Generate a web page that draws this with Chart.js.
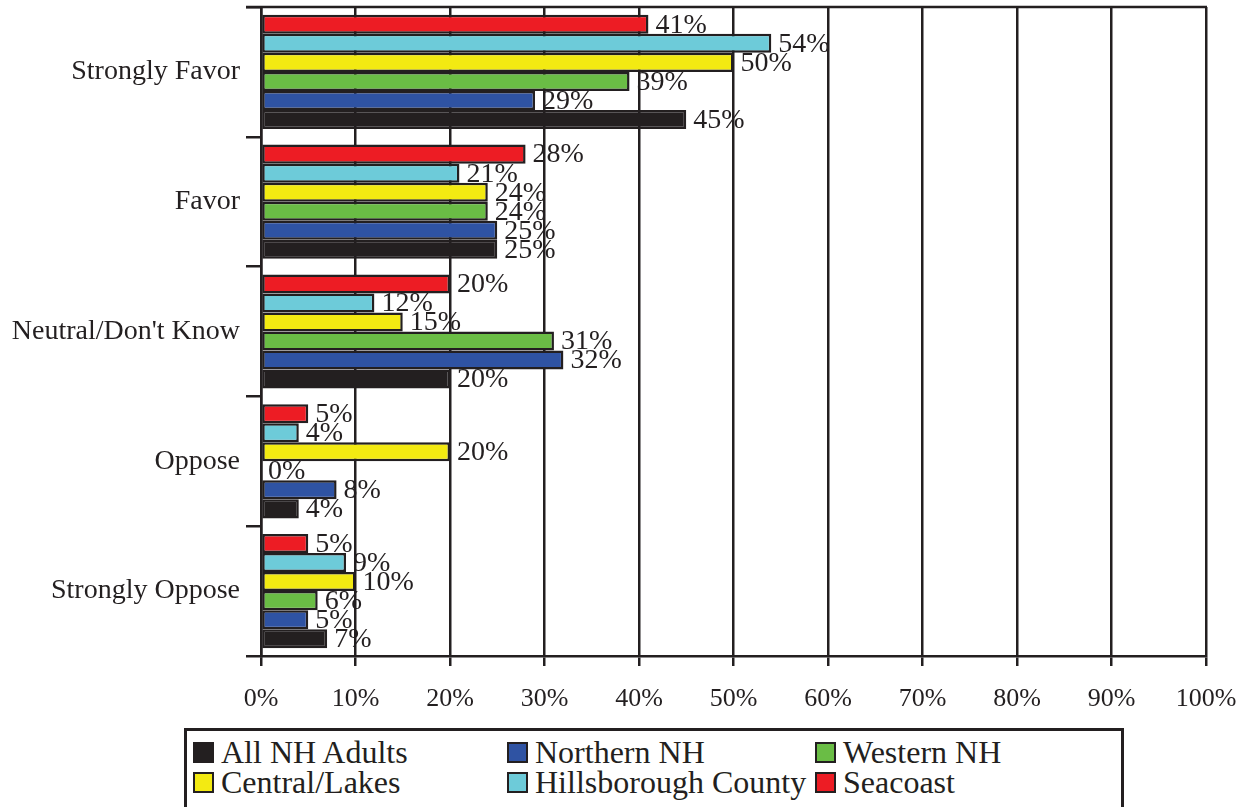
<!DOCTYPE html>
<html>
<head>
<meta charset="utf-8">
<script src="https://cdn.jsdelivr.net/npm/chart.js@4"></script>
<style>
  body { margin: 0; background: #fff; }
  #wrap { position: relative; width: 1252px; height: 807px; overflow: hidden; }
  #chartBox { position: absolute; left: 0; top: 0; width: 1252px; height: 720px; }
  #legend {
    position: absolute; left: 184px; top: 728px; width: 940px; height: 110px;
    border: 3px solid #231f20; box-sizing: border-box;
    font-family: "Liberation Serif", "Times New Roman", serif; font-size: 32px; color: #231f20;
  }
  .item { position: absolute; display: flex; align-items: center; white-space: nowrap; height: 32px; line-height: 32px; }
  .sw { width: 17px; height: 17px; border: 2.5px solid #231f20; margin-right: 7px; }
</style>
</head>
<body>
<div id="wrap">
  <div id="chartBox"><canvas id="myChart"></canvas></div>
  <div id="legend"></div>
</div>
<script>
const categories = ["Strongly Favor", "Favor", "Neutral/Don't Know", "Oppose", "Strongly Oppose"]
const xTicks = [0, 10, 20, 30, 40, 50, 60, 70, 80, 90, 100]

// top to bottom inside each group
const seacoast     = [41, 28, 20, 5, 5]
const hillsborough = [54, 21, 12, 4, 9]
const central      = [50, 24, 15, 20, 10]
const western      = [39, 24, 31, 0, 6]
const northern     = [29, 25, 32, 8, 5]
const allNH        = [45, 25, 20, 4, 7]

const seriesNames  = ["Seacoast", "Hillsborough County", "Central/Lakes", "Western NH", "Northern NH", "All NH Adults"]
const seriesData   = [seacoast, hillsborough, central, western, northern, allNH]
const seriesColors = ["#ed1c24", "#6dcbd9", "#f3ea12", "#6abd45", "#2f53a3", "#231f20"]

// legend reads in the other direction
const legendOrder = ["All NH Adults", "Northern NH", "Western NH", "Central/Lakes", "Hillsborough County", "Seacoast"]

const ink = "#231f20"
const serif = "'Liberation Serif', 'Times New Roman', serif"

const ctx = document.getElementById('myChart');

const frame = {
  id: "frame",
  afterDraw(chart) {
    const a = chart.chartArea
    const c = chart.ctx
    c.save()
    c.strokeStyle = ink
    c.lineWidth = 2.5
    c.beginPath()
    c.moveTo(a.left - 15, a.top)
    c.lineTo(a.right + 1, a.top)
    c.stroke()
    c.restore()
  }
}

const valueLabels = {
  id: "valueLabels",
  afterDatasetsDraw(chart) {
    const c = chart.ctx
    c.save()
    c.font = "28px " + serif
    c.fillStyle = ink
    c.textBaseline = "middle"
    c.textAlign = "left"
    chart.data.datasets.forEach((ds, i) => {
      chart.getDatasetMeta(i).data.forEach((bar, j) => {
        c.fillText(ds.data[j] + "%", bar.x + 7, bar.y + 1)
      })
    })
    c.restore()
  }
}

const myChart = new Chart(ctx, {
  type: "bar",
  data: {
    labels: categories,
    datasets: seriesNames.map((name, i) => ({
      label: name,
      data: seriesData[i],
      backgroundColor: seriesColors[i],
      borderColor: ink,
      borderWidth: 2.5,
      borderSkipped: false,
      barPercentage: 1,
      categoryPercentage: 0.88
    }))
  },
  options: {
    indexAxis: "y",
    responsive: true,
    maintainAspectRatio: false,
    animation: false,
    layout: { padding: { top: 7, right: 46, left: 0, bottom: 0 } },
    plugins: {
      legend: { display: false },
      tooltip: { enabled: false }
    },
    scales: {
      x: {
        min: 0,
        max: 100,
        afterBuildTicks: (scale) => { scale.ticks = xTicks.map(v => ({ value: v })) },
        afterFit: (scale) => { scale.height = 64; scale.paddingLeft = 0; scale.paddingRight = 0 },
        border: { color: ink, width: 2.5 },
        grid: { color: ink, lineWidth: 2.5, tickLength: 10, tickColor: ink },
        ticks: {
          color: ink,
          padding: 18,
          font: { family: serif, size: 26 },
          callback: (v) => v + "%"
        }
      },
      y: {
        offset: true,
        afterFit: (scale) => { scale.width = 261; scale.paddingTop = 0; scale.paddingBottom = 0 },
        border: { color: ink, width: 2.5 },
        grid: { drawOnChartArea: false, offset: true, tickLength: 15, color: ink, lineWidth: 2.5 },
        ticks: {
          color: ink,
          padding: 6,
          font: { family: serif, size: 28 }
        }
      }
    }
  },
  plugins: [frame, valueLabels]
});

// html legend, 3 columns x 2 rows
const legend = document.getElementById("legend")
const colX = [6, 320, 628]
const rowY = [5, 35]
legendOrder.forEach((name, k) => {
  const i = seriesNames.indexOf(name)
  const el = document.createElement("div")
  el.className = "item"
  el.style.left = colX[k % 3] + "px"
  el.style.top = rowY[Math.floor(k / 3)] + "px"
  el.innerHTML = '<span class="sw" style="background:' + seriesColors[i] + '"></span>' + name
  legend.appendChild(el)
})
</script>
</body>
</html>
